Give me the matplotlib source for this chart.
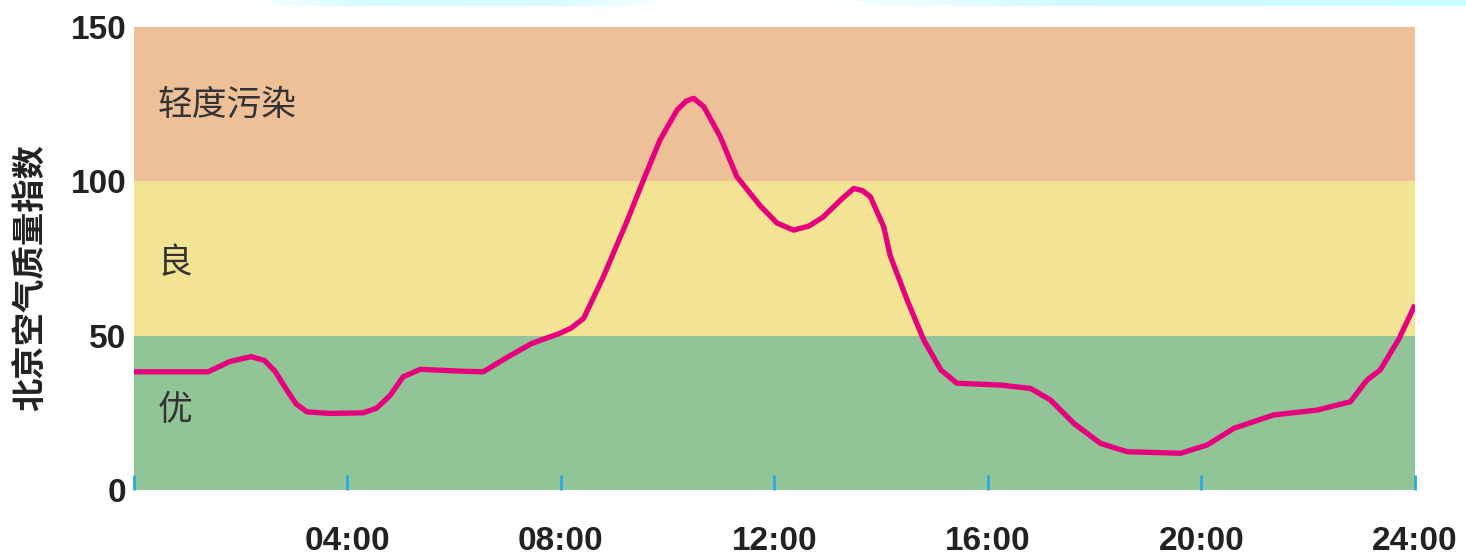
import numpy as np
import matplotlib
matplotlib.use("Agg")
import matplotlib.pyplot as plt
from matplotlib.colors import LinearSegmentedColormap

plt.rcParams['font.family'] = ['Noto Sans CJK SC', 'DejaVu Sans']

# === DATOS ===
hours = [0, 1.4, 1.8, 2.2, 2.45, 2.65, 2.87, 3.05, 3.25, 3.68, 4.3, 4.55, 4.8, 5.05, 5.37,
         6.12, 6.55, 7.0, 7.46, 7.99, 8.2, 8.43, 8.8, 9.24, 9.55, 9.86, 10.18, 10.35, 10.49,
         10.68, 10.99, 11.3, 11.74, 12.05, 12.36, 12.65, 12.92, 13.24, 13.49, 13.65, 13.8,
         14.05, 14.17, 14.49, 14.8, 15.12, 15.42, 16.23, 16.8, 17.17, 17.61, 18.11, 18.61,
         19.61, 20.11, 20.61, 21.35, 22.17, 22.79, 23.1, 23.35, 23.7, 24.0]
aqi = [38.3, 38.3, 41.6, 43.2, 42.0, 38.5, 32.4, 27.8, 25.3, 24.8, 25.0, 26.5, 30.5, 36.7, 39.1,
       38.5, 38.3, 43.0, 47.5, 50.8, 52.5, 55.6, 69.1, 87.0, 100.4, 113.4, 123.1, 126.0, 126.9,
       124.2, 114.4, 101.5, 92.0, 86.5, 84.2, 85.5, 88.5, 93.9, 97.7, 97.0, 95.0,
       85.3, 76.0, 61.5, 48.6, 38.9, 34.6, 34.0, 32.9, 29.2, 21.6, 15.1, 12.4,
       11.9, 14.6, 20.0, 24.3, 25.9, 28.6, 35.6, 38.9, 49.0, 60.0]

band_edges = [0, 50, 100, 150]
band_names = ["优", "良", "轻度污染"]
band_label_y = [25.9, 73.5, 124.7]
band_colors = ["#91c497", "#f2e492", "#edc098"]

xticks = [0, 4, 8, 12, 16, 20, 24]
xtick_labels = ["", "04:00", "08:00", "12:00", "16:00", "20:00", "24:00"]
yticks = [0, 50, 100, 150]

# === FIGURA ===
fig = plt.figure(figsize=(14.66, 5.59), dpi=100)
ax = fig.add_axes([133.5 / 1466, 1 - 490 / 559, (1415 - 133.5) / 1466, (490 - 27) / 559])

for lo, hi, c in zip(band_edges[:-1], band_edges[1:], band_colors):
    ax.axhspan(lo, hi, color=c, lw=0, zorder=0)

for name, y in zip(band_names, band_label_y):
    ax.text(0.45, y, name, fontsize=25, color="#333333", va="center", ha="left")

ax.plot(hours, aqi, color="#e6007e", lw=3.8, solid_joinstyle="round",
        solid_capstyle="butt", zorder=3)

ax.set_xlim(0, 24)
ax.set_ylim(0, 150)
for s in ax.spines.values():
    s.set_visible(False)

ax.set_xticks(xticks)
ax.set_xticklabels(xtick_labels, fontsize=24, fontweight="bold",
                   family=["Liberation Sans", "DejaVu Sans"], color="#222222")
ax.tick_params(axis="x", direction="in", length=11, width=2, color="#29a9e0", pad=26)
ax.set_yticks(yticks)
ax.set_yticklabels([str(v) for v in yticks], fontsize=24, fontweight="bold",
                   family=["Liberation Sans", "DejaVu Sans"], color="#222222")
ax.tick_params(axis="y", length=0, pad=5)

fig.text(31 / 1466, 1 - 278 / 559, "北京空气质量指数", rotation=90, fontsize=24,
         fontweight="bold", color="#222222", ha="center", va="center")

# franja degradada superior
cmap = LinearSegmentedColormap.from_list(
    "top", [(0.0, "#ffffff"), (0.17, "#ffffff"), (0.25, "#d2fbff"), (0.38, "#d8fcff"),
            (0.46, "#ffffff"), (0.56, "#ffffff"), (0.72, "#d2fbff"), (1.0, "#c8fbff")])
tax = fig.add_axes([0, 1 - 6 / 559, 1, 6 / 559])
tax.imshow(np.linspace(0, 1, 512)[None, :], aspect="auto", cmap=cmap)
tax.axis("off")

fig.savefig("out.png", dpi=100)
